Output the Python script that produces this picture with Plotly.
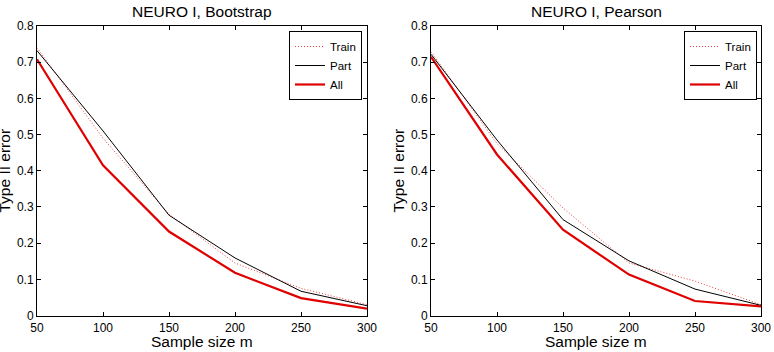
import plotly.graph_objects as go

W, H = 774, 352

sample_sizes = [50, 100, 150, 200, 250, 300]

# NEURO I, Bootstrap
boot_train = [0.740, 0.490, 0.280, 0.145, 0.075, 0.030]
boot_part = [0.732, 0.510, 0.277, 0.159, 0.067, 0.027]
boot_all = [0.708, 0.415, 0.232, 0.118, 0.048, 0.019]

# NEURO I, Pearson
pear_train = [0.729, 0.475, 0.297, 0.145, 0.095, 0.030]
pear_part = [0.722, 0.485, 0.265, 0.151, 0.073, 0.028]
pear_all = [0.715, 0.445, 0.237, 0.113, 0.040, 0.025]

titles = ["NEURO I, Bootstrap", "NEURO I, Pearson"]
x_ticks = [50, 100, 150, 200, 250, 300]
y_ticks = [0, 0.1, 0.2, 0.3, 0.4, 0.5, 0.6, 0.7, 0.8]
y_ticklabels = ["0", "0.1", "0.2", "0.3", "0.4", "0.5", "0.6", "0.7", "0.8"]

FONT = "Liberation Sans, Arial, sans-serif"

# pixel geometry of plot areas
left_px = [(37, 367), (431, 761)]
top_px, bot_px = 26, 315.5

fig = go.Figure()

panels = [
    (boot_train, boot_part, boot_all),
    (pear_train, pear_part, pear_all),
]

for i, (tr, pa, al) in enumerate(panels):
    xa = "x" if i == 0 else "x2"
    ya = "y" if i == 0 else "y2"
    lg = "legend" if i == 0 else "legend2"
    fig.add_trace(go.Scatter(x=sample_sizes, y=tr, mode="lines", name="Train",
                             line=dict(color="#f03c3c", width=1, dash="1px,2px"),
                             xaxis=xa, yaxis=ya, legend=lg))
    fig.add_trace(go.Scatter(x=sample_sizes, y=pa, mode="lines", name="Part",
                             line=dict(color="black", width=1),
                             xaxis=xa, yaxis=ya, legend=lg))
    fig.add_trace(go.Scatter(x=sample_sizes, y=al, mode="lines", name="All",
                             line=dict(color="#e00000", width=2.2),
                             xaxis=xa, yaxis=ya, legend=lg))

axis_common = dict(
    showgrid=False, zeroline=False, showline=True, linecolor="black", linewidth=1,
    mirror="ticks", ticks="inside", ticklen=4, tickcolor="black", tickwidth=1,
    tickfont=dict(family=FONT, size=12, color="black"), automargin=False,
)

for i in range(2):
    x0, x1 = left_px[i]
    xd = [x0 / W, x1 / W]
    yd = [1 - bot_px / H, 1 - top_px / H]
    sfx = "" if i == 0 else "2"
    fig.update_layout(**{
        "xaxis" + sfx: dict(axis_common, domain=xd, range=[50, 300], tickvals=x_ticks,
                            anchor="y" + sfx, ticklabelstandoff=1),
        "yaxis" + sfx: dict(axis_common, domain=yd, range=[0, 0.8], tickvals=y_ticks,
                            ticktext=y_ticklabels, anchor="x" + sfx),
    })

annotations = []
for i in range(2):
    x0, x1 = left_px[i]
    cx = (x0 + x1) / 2
    annotations.append(dict(text=titles[i], x=cx / W, y=1 - 11 / H, xref="paper", yref="paper",
                            xanchor="center", yanchor="middle", showarrow=False,
                            font=dict(family=FONT, size=15.5, color="black")))
    annotations.append(dict(text="Sample size m", x=cx / W, y=1 - 341.5 / H, xref="paper", yref="paper",
                            xanchor="center", yanchor="middle", showarrow=False,
                            font=dict(family=FONT, size=15.5, color="black")))
    ycx = 4 if i == 0 else 398
    annotations.append(dict(text="Type II error", x=ycx / W, y=1 - 170.5 / H, xref="paper", yref="paper",
                            xanchor="center", yanchor="middle", showarrow=False, textangle=-90,
                            font=dict(family=FONT, size=15.5, color="black")))

legend_common = dict(bgcolor="white", bordercolor="black", borderwidth=1,
                     font=dict(family=FONT, size=11.5, color="black"),
                     xanchor="right", yanchor="top", itemwidth=30,
                     tracegroupgap=0)

fig.update_layout(
    width=W, height=H,
    margin=dict(l=0, r=0, t=0, b=0),
    paper_bgcolor="white", plot_bgcolor="white",
    showlegend=True,
    legend=dict(legend_common, x=362 / W, y=1 - 31 / H),
    legend2=dict(legend_common, x=757 / W, y=1 - 31 / H),
    annotations=annotations,
)

fig.write_html("out.html")
